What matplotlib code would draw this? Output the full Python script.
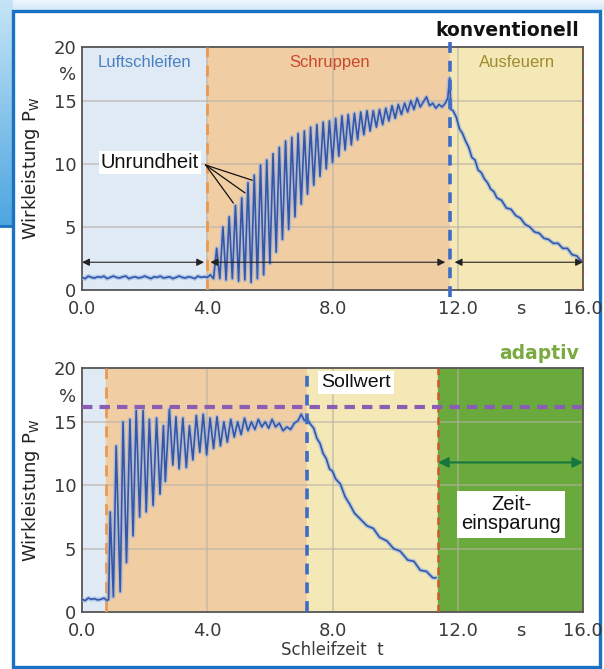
import matplotlib.pyplot as plt
import numpy as np
from matplotlib.patches import Rectangle
from matplotlib.colors import LinearSegmentedColormap

plt.rcParams['font.family'] = ['DejaVu Sans']

# --- data ----------------------------------------------------------------
# konventionell: baseline, oscillating roughing phase, spark-out decay
t_conv = [0.0, 0.1, 0.2, 0.3, 0.4, 0.5, 0.6, 0.7, 0.8, 0.9, 1.0, 1.1, 1.2, 1.3,
          1.4, 1.5, 1.6, 1.7, 1.8, 1.9, 2.0, 2.1, 2.2, 2.3, 2.4, 2.5, 2.6, 2.7,
          2.8, 2.9, 3.0, 3.1, 3.2, 3.3, 3.4, 3.5, 3.6, 3.7, 3.8, 3.9, 4.0,
          4.1, 4.2, 4.3, 4.4, 4.5, 4.6, 4.7, 4.8, 4.9, 5.0, 5.1, 5.2, 5.3, 5.4,
          5.5, 5.6, 5.7, 5.8, 5.9, 6.0, 6.1, 6.2, 6.3, 6.4, 6.5, 6.6, 6.7, 6.8,
          6.9, 7.0, 7.1, 7.2, 7.3, 7.4, 7.5, 7.6, 7.7, 7.8, 7.9, 8.0, 8.1, 8.2,
          8.3, 8.4, 8.5, 8.6, 8.7, 8.8, 8.9, 9.0, 9.1, 9.2, 9.3, 9.4, 9.5, 9.6,
          9.7, 9.8, 9.9, 10.0, 10.1, 10.2, 10.3, 10.4, 10.5, 10.6, 10.7, 10.8,
          10.9, 11.0, 11.1, 11.2, 11.3, 11.4, 11.5, 11.6, 11.68, 11.74, 11.78,
          11.85, 11.95, 12.05, 12.15, 12.25, 12.35, 12.45, 12.55, 12.65, 12.75,
          12.85, 12.95, 13.05, 13.15, 13.25, 13.4, 13.55, 13.7, 13.85, 14.0,
          14.15, 14.3, 14.45, 14.6, 14.75, 14.9, 15.05, 15.2, 15.35, 15.5,
          15.65, 15.8, 15.9, 16.0]
p_conv = [1.0, 0.9, 1.1, 1.0, 0.95, 1.05, 1.0, 1.1, 0.9, 1.0, 1.1, 1.0, 0.95,
          1.05, 1.1, 0.9, 1.0, 1.05, 0.95, 1.0, 1.1, 1.0, 0.9, 1.05, 1.0, 1.1,
          0.95, 1.0, 1.05, 0.9, 1.0, 1.1, 1.0, 0.95, 1.05, 1.0, 0.9, 1.1, 1.0,
          1.05, 1.0,
          1.2, 0.9, 3.3, 0.9, 5.0, 0.8, 5.8, 0.9, 6.7, 0.7, 7.3, 0.8, 8.5, 0.6,
          9.1, 0.9, 9.9, 1.2, 10.3, 2.1, 10.8, 3.0, 11.3, 4.0, 11.8, 4.8, 12.1,
          5.8, 12.4, 6.8, 12.6, 7.6, 12.9, 8.3, 13.1, 9.0, 13.3, 9.6, 13.4,
          10.1, 13.6, 10.6, 13.8, 11.1, 13.9, 11.5, 14.0, 11.9, 14.1, 12.3,
          14.2, 12.6, 14.2, 12.9, 14.3, 13.1, 14.4, 13.4, 14.6, 13.6, 14.7,
          13.9, 14.8, 14.1, 15.0, 14.3, 15.2, 14.5, 14.9, 15.3, 14.6, 14.8,
          14.4, 14.7, 14.5, 14.8, 15.2, 16.8, 14.3,
          14.2, 13.7, 12.8, 12.4, 11.8, 11.3, 10.5, 10.3, 9.5, 9.3, 8.8, 8.5,
          8.0, 7.8, 7.3, 7.1, 6.5, 6.4, 5.9, 5.7, 5.2, 5.0, 4.6, 4.5, 4.1, 4.0,
          3.7, 3.7, 3.3, 3.3, 2.8, 2.7, 2.4, 2.3]

# adaptiv
t_adap = [0.0, 0.1, 0.2, 0.3, 0.4, 0.5, 0.6, 0.7, 0.8, 0.85, 0.9, 1.0, 1.09,
          1.22, 1.31, 1.42, 1.53, 1.63, 1.73, 1.84, 1.95, 2.05, 2.15, 2.27,
          2.38, 2.49, 2.6, 2.66, 2.79, 2.9, 3.0, 3.1, 3.22, 3.33, 3.43, 3.54,
          3.65, 3.76, 3.87, 3.98, 4.09, 4.2, 4.31, 4.42, 4.53, 4.64, 4.75,
          4.86, 4.97, 5.08, 5.19, 5.3, 5.41, 5.52, 5.63, 5.74, 5.85, 5.96,
          6.07, 6.18, 6.3, 6.42, 6.54, 6.66, 6.78, 6.9, 7.0, 7.1, 7.2, 7.3,
          7.4, 7.5, 7.6, 7.7, 7.8, 7.9, 8.0, 8.1, 8.25, 8.4, 8.55, 8.7, 8.9,
          9.1, 9.3, 9.5, 9.74, 9.95, 10.16, 10.4, 10.6, 10.8, 11.0, 11.2, 11.3]
p_adap = [1.0, 0.9, 1.1, 1.0, 1.05, 0.95, 1.0, 1.1, 0.9, 1.0, 7.9, 1.2, 13.1,
          1.6, 15.0, 3.9, 15.2, 6.0, 15.9, 7.5, 15.9, 7.9, 15.2, 8.4, 15.3,
          9.3, 14.7, 10.3, 16.0, 11.6, 15.4, 11.3, 15.3, 11.4, 14.7, 12.0,
          15.5, 12.6, 15.6, 12.4, 15.3, 12.9, 15.4, 13.1, 15.0, 13.4, 15.2,
          13.8, 15.0, 14.0, 15.3, 14.3, 15.0, 14.4, 15.2, 14.6, 15.0, 14.5,
          15.2, 14.6, 14.9, 14.3, 14.6, 14.4, 14.9, 15.1, 15.6, 15.1, 15.2,
          14.8, 14.5, 13.7, 13.3, 12.5, 12.1, 11.3, 11.1, 10.5, 10.1, 9.1, 8.5,
          7.8, 7.3, 6.8, 6.6, 5.9, 5.6, 5.0, 4.8, 4.1, 4.0, 3.3, 3.2, 2.7, 2.7]

# phase boundaries (s)
conv_phases = [0.0, 4.0, 11.75, 16.0]
adap_phases = [0.0, 0.75, 7.18, 11.37, 16.0]
sollwert = 16.2

x_ticks = [0, 4, 8, 12, 14, 16]
x_labels = ['0.0', '4.0', '8.0', '12.0', 's', '16.0']
y_top = 19.25
y_ticks = [0, 5, 10, 15, y_top]
y_labels = ['0', '5', '10', '15', '20']

c_blue = '#dfeaf4'
c_orange = '#f1cda4'
c_yellow = '#f4e9b6'
c_green = '#6aaa3c'
c_line = '#3556a8'
arial = ['Liberation Sans', 'DejaVu Sans']

fig = plt.figure(figsize=(6.04, 6.69), dpi=100)

# decorative background and frame (pixel coordinates)
bg = fig.add_axes([0, 0, 1, 1], zorder=-10)
bg.axis('off')
grad = np.linspace(0, 1, 50).reshape(-1, 1)
bg.imshow(grad, extent=(0, 604, 10, 0), aspect='auto',
          cmap=LinearSegmentedColormap.from_list('g1', ['#eef6fc', '#d6eaf8']))
bg.imshow(grad, extent=(0, 13, 226, 0), aspect='auto',
          cmap=LinearSegmentedColormap.from_list('g2', ['#c4e4f6', '#4ea6e0']))
bg.plot([0, 13], [226, 226], color='#1a72c4', lw=2)
bg.add_patch(Rectangle((12.5, 10.5), 587, 656, facecolor='white', edgecolor='#1a72c4', lw=2.4))
bg.set_xlim(0, 604)
bg.set_ylim(669, 0)


def style_axes(ax):
    ax.set_xlim(0, 16)
    ax.set_ylim(0, y_top)
    ax.set_xticks(x_ticks)
    ax.set_xticklabels(x_labels)
    ax.set_yticks(y_ticks)
    ax.set_yticklabels(y_labels)
    ax.tick_params(length=0, labelsize=13, colors='#3a3a3a', pad=4)
    ax.tick_params(axis='x', pad=7)
    for s in ax.spines.values():
        s.set_color('#555555')
        s.set_linewidth(1.3)
    for yv in [5, 10, 15]:
        ax.axhline(yv, color='#b8b0a8', lw=1.4, alpha=0.55, zorder=1)
    for xv in [4, 8, 12]:
        ax.axvline(xv, color='#b8b0a8', lw=1.4, alpha=0.55, zorder=1)
    ax.text(-0.012, 17.0, '%', transform=ax.get_yaxis_transform(), ha='right', va='center',
            fontsize=13, color='#3a3a3a')
    ax.set_ylabel('Wirkleistung P$_\\mathregular{W}$', fontsize=13, color='#222222', labelpad=8)


def plot_signal(ax, t, p):
    ax.plot(t, p, color='#8fb2e6', lw=3.2, alpha=0.6, zorder=4)
    ax.plot(t, p, color=c_line, lw=1.2, zorder=5)


# --- konventionell ---------------------------------------------------------
ax1 = fig.add_axes([0.1358, 0.5665, 0.8295, 0.3632])
ax1.axvspan(conv_phases[0], conv_phases[1], color=c_blue, zorder=0)
ax1.axvspan(conv_phases[1], conv_phases[2], color=c_orange, zorder=0)
ax1.axvspan(conv_phases[2], conv_phases[3], color=c_yellow, zorder=0)
style_axes(ax1)
ax1.axvline(conv_phases[1], color='#e89a50', lw=2, dashes=(4, 3), zorder=3)
ax1.axvline(conv_phases[2], ymin=-0.03, ymax=1.02, color='#3d6cc4', lw=2.6, dashes=(3, 2.2),
            zorder=6, clip_on=False)
ax1.axvline(conv_phases[3], color='#a24a30', lw=2, dashes=(3, 2), zorder=6)
plot_signal(ax1, t_conv, p_conv)

ax1.text(2.0, 18.0, 'Luftschleifen', ha='center', va='center', fontsize=12,
         color='#4a80c2', family=arial)
ax1.text(7.9, 18.0, 'Schruppen', ha='center', va='center', fontsize=12,
         color='#c84a2c', family=arial)
ax1.text(13.9, 18.0, 'Ausfeuern', ha='center', va='center', fontsize=12,
         color='#a08a30', family=arial)
ax1.text(2.17, 10.1, 'Unrundheit', ha='center', va='center', fontsize=14.5, color='#111111',
         family=arial, bbox=dict(facecolor='white', edgecolor='none', pad=1.5), zorder=7)
for tx, py in [(5.43, 8.7), (5.2, 7.7), (4.83, 6.9)]:
    ax1.plot([3.95, tx], [9.9, py], color='#111111', lw=0.9, zorder=7)

for x0, x1 in [(0.0, 3.9), (4.1, 11.6), (11.9, 16.0)]:
    ax1.annotate('', xy=(x1, 2.2), xytext=(x0, 2.2),
                 arrowprops=dict(arrowstyle='<|-|>', color='#222222', lw=0.8,
                                 mutation_scale=11, shrinkA=0, shrinkB=0), zorder=7)
fig.text(0.958, 0.955, 'konventionell', ha='right', va='center', fontsize=13.5,
         fontweight='bold', color='#111111')

# --- adaptiv ---------------------------------------------------------------
ax2 = fig.add_axes([0.1358, 0.0852, 0.8295, 0.3647])
ax2.axvspan(adap_phases[0], adap_phases[1], color=c_blue, zorder=0)
ax2.axvspan(adap_phases[1], adap_phases[2], color=c_orange, zorder=0)
ax2.axvspan(adap_phases[2], adap_phases[3], color=c_yellow, zorder=0)
ax2.axvspan(adap_phases[3], adap_phases[4], color=c_green, zorder=0)
style_axes(ax2)
ax2.axvline(adap_phases[1], color='#e89a50', lw=2, dashes=(4, 3), zorder=3)
ax2.axvline(adap_phases[2], color='#3d6cc4', lw=2.6, dashes=(3, 2.2), zorder=6)
ax2.axvline(adap_phases[3], color='#cc5a2e', lw=1.8, dashes=(3, 2), zorder=6)
ax2.axhline(sollwert, color='#8a5cb4', lw=3, dashes=(2.5, 1.7), zorder=6)
plot_signal(ax2, t_adap, p_adap)

ax2.text(8.75, 18.1, 'Sollwert', ha='center', va='center', fontsize=14, color='#111111',
         family=arial, bbox=dict(facecolor='white', edgecolor='none', pad=2), zorder=7)
ax2.text(13.7, 7.7, 'Zeit-\neinsparung', ha='center', va='center', fontsize=14.5,
         color='#111111', linespacing=1.0, family=arial,
         bbox=dict(facecolor='white', edgecolor='none', pad=3), zorder=7)
ax2.annotate('', xy=(16.0, 11.8), xytext=(adap_phases[3], 11.8),
             arrowprops=dict(arrowstyle='<|-|>', color='#17763e', lw=1.5,
                             mutation_scale=15, shrinkA=0, shrinkB=0), zorder=7)
ax2.set_xlabel('Schleifzeit  t', fontsize=12, color='#3a3a3a', labelpad=1)
fig.text(0.958, 0.472, 'adaptiv', ha='right', va='center', fontsize=13.5,
         fontweight='bold', color='#7aaa40')

fig.savefig('out.png', dpi=100)
